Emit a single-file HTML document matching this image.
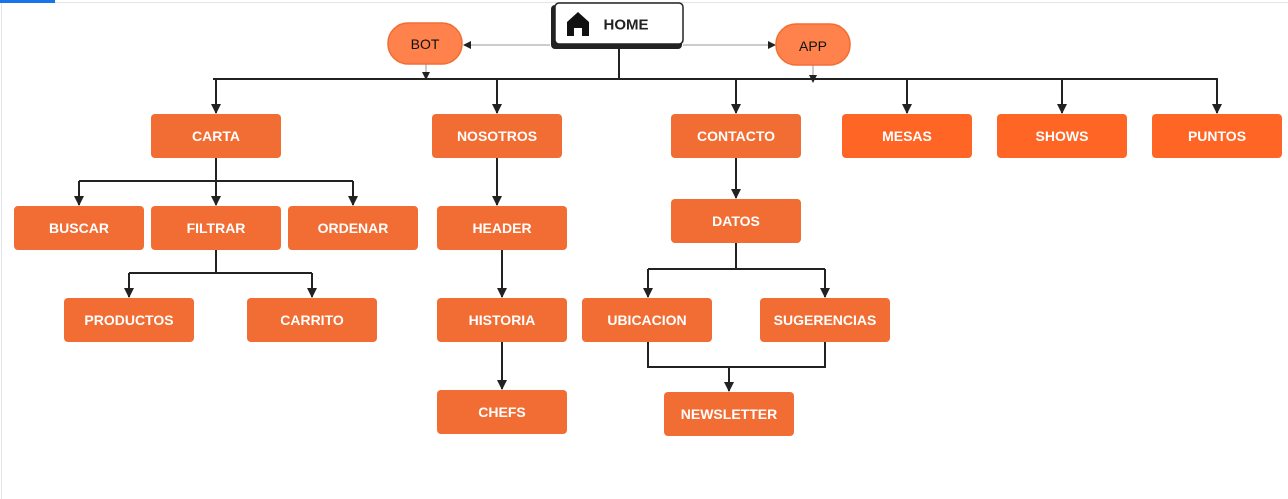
<!DOCTYPE html>
<html><head><meta charset="utf-8"><style>
body{margin:0;width:1288px;height:499px;overflow:hidden;background:#fff}
svg{display:block}
text{font-family:"Liberation Sans",sans-serif;font-weight:bold;font-size:14px;fill:#fff;text-anchor:middle;dominant-baseline:central}
</style></head><body>
<svg width="1288" height="499" viewBox="0 0 1288 499">
<defs><marker id="a" markerWidth="8" markerHeight="8" refX="7" refY="4" orient="auto" markerUnits="userSpaceOnUse"><path d="M0,0L8,4L0,8Z" fill="#222"/></marker>
<marker id="b" markerWidth="10" markerHeight="10" refX="9" refY="5" orient="auto" markerUnits="userSpaceOnUse"><path d="M0,0L10,5L0,10Z" fill="#222"/></marker></defs>
<rect x="0" y="0" width="1288" height="499" fill="#fff"/>
<line x1="0" y1="2.5" x2="1288" y2="2.5" stroke="#e3e5ea" stroke-width="1"/>
<line x1="1.5" y1="0" x2="1.5" y2="499" stroke="#e3e5ea" stroke-width="1"/>
<rect x="0" y="0" width="55" height="3" fill="#1a73e8"/>
<g stroke="#222" stroke-width="2" fill="none">
<path d="M619,48V79M213,79H1218"/>
<g marker-end="url(#b)">
<path d="M216,79V113"/><path d="M497,79V113"/><path d="M736,79V113"/><path d="M907,79V113"/><path d="M1062,79V113"/><path d="M1217,79V113"/>
</g>
<path d="M216,158V181M79,181H353"/>
<g marker-end="url(#b)">
<path d="M79,181V205"/><path d="M216,181V205"/><path d="M353,181V205"/>
</g>
<path d="M216,250V273M129,273H312"/>
<g marker-end="url(#b)">
<path d="M129,273V297"/><path d="M312,273V297"/>
<path d="M497,158V205"/><path d="M502,250V297"/><path d="M502,342V389"/><path d="M736,158V198"/>
</g>
<path d="M736,243V269M648,269H825"/>
<g marker-end="url(#b)">
<path d="M648,269V297"/><path d="M825,269V297"/>
</g>
<path d="M648,342V367H825V342"/>
<path d="M729,367V391" marker-end="url(#b)"/>
</g>
<g stroke="#999" stroke-width="1" fill="none">
<path d="M550,45H464" marker-end="url(#a)"/>
<path d="M683,45H775" marker-end="url(#a)"/>
<path d="M426,64V79" marker-end="url(#a)"/>
<path d="M813,65V82" marker-end="url(#a)"/>
</g>
<rect x="388" y="23" width="74" height="41" rx="20" fill="#ff824c" stroke="#f26d33" stroke-width="1.5"/>
<text x="425" y="44" style="font-weight:normal;fill:#111">BOT</text>
<rect x="776" y="24" width="74" height="41" rx="20" fill="#ff824c" stroke="#f26d33" stroke-width="1.5"/>
<text x="813" y="46" style="font-weight:normal;fill:#111">APP</text>
<rect x="551" y="5" width="131" height="44" rx="4" fill="#222"/>
<rect x="555" y="3" width="128" height="41" rx="4" fill="#fff" stroke="#222" stroke-width="1.5"/>
<path d="M567,36V22L578,12L589,22V36H582V28H574V36Z" fill="#111"/>
<text x="626" y="25" style="fill:#222;font-size:15px">HOME</text>
<g fill="#f26d33">
<rect x="151" y="114" width="130" height="44" rx="4"/>
<rect x="432" y="114" width="130" height="44" rx="4"/>
<rect x="671" y="114" width="130" height="44" rx="4"/>
<rect x="842" y="114" width="130" height="44" rx="4" fill="#ff6524"/>
<rect x="997" y="114" width="130" height="44" rx="4" fill="#ff6524"/>
<rect x="1152" y="114" width="130" height="44" rx="4" fill="#ff6524"/>
<rect x="14" y="206" width="130" height="44" rx="4"/>
<rect x="151" y="206" width="130" height="44" rx="4"/>
<rect x="288" y="206" width="130" height="44" rx="4"/>
<rect x="437" y="206" width="130" height="44" rx="4"/>
<rect x="671" y="199" width="130" height="44" rx="4"/>
<rect x="64" y="298" width="130" height="44" rx="4"/>
<rect x="247" y="298" width="130" height="44" rx="4"/>
<rect x="437" y="298" width="130" height="44" rx="4"/>
<rect x="582" y="298" width="130" height="44" rx="4"/>
<rect x="760" y="298" width="130" height="44" rx="4"/>
<rect x="437" y="390" width="130" height="44" rx="4"/>
<rect x="664" y="392" width="130" height="44" rx="4"/>
</g>
<text x="216" y="136">CARTA</text>
<text x="497" y="136">NOSOTROS</text>
<text x="736" y="136">CONTACTO</text>
<text x="907" y="136">MESAS</text>
<text x="1062" y="136">SHOWS</text>
<text x="1217" y="136">PUNTOS</text>
<text x="79" y="228">BUSCAR</text>
<text x="216" y="228">FILTRAR</text>
<text x="353" y="228">ORDENAR</text>
<text x="502" y="228">HEADER</text>
<text x="736" y="221">DATOS</text>
<text x="129" y="320">PRODUCTOS</text>
<text x="312" y="320">CARRITO</text>
<text x="502" y="320">HISTORIA</text>
<text x="647" y="320">UBICACION</text>
<text x="825" y="320">SUGERENCIAS</text>
<text x="502" y="412">CHEFS</text>
<text x="729" y="414">NEWSLETTER</text>
</svg>
</body></html>
